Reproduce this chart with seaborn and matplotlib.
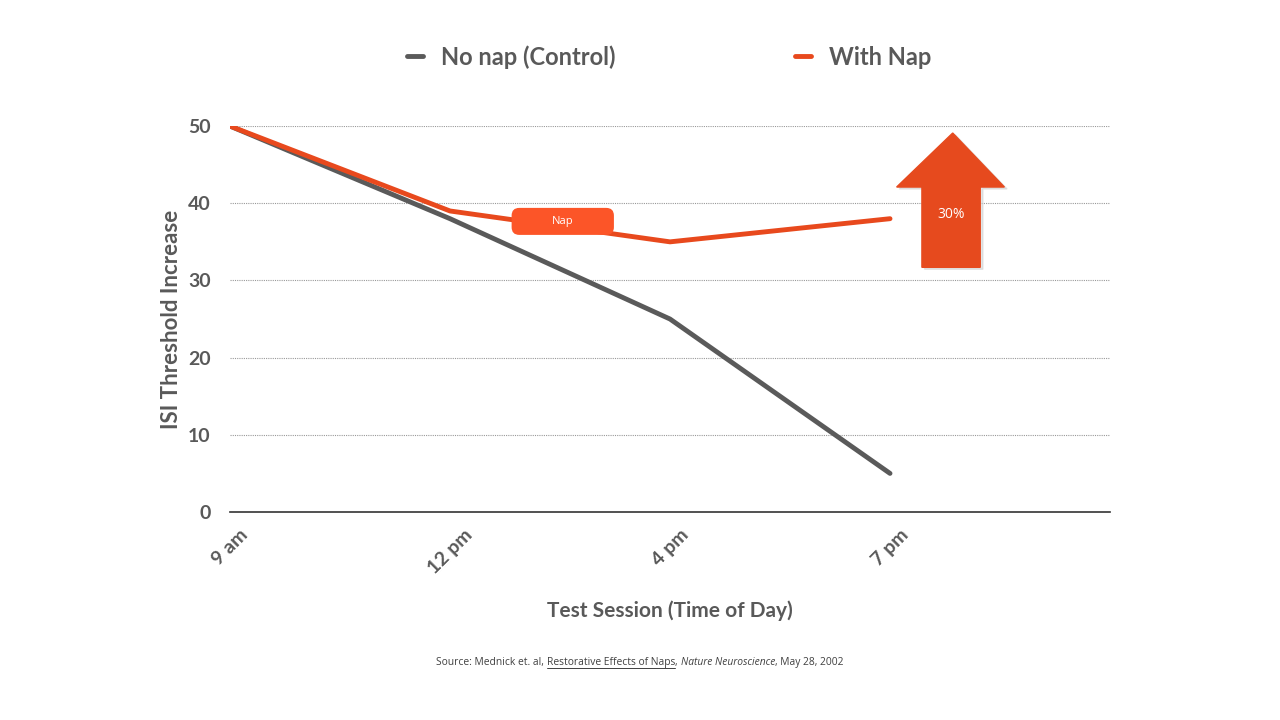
import matplotlib.pyplot as plt
import pandas as pd
import seaborn as sns
from matplotlib.lines import Line2D
from matplotlib.patches import FancyBboxPatch

# Data
sessions = ['9 am', '12 pm', '4 pm', '7 pm']
no_nap = [50, 38, 25, 5]
with_nap = [50, 39, 35, 38]
series_names = ['No nap (Control)', 'With Nap']

df = pd.DataFrame({
    'Session': list(range(len(sessions))) * 2,
    'Value': no_nap + with_nap,
    'Group': [series_names[0]] * 4 + [series_names[1]] * 4,
})

sns.set_style("white")
plt.rcParams['font.family'] = ['Lato', 'DejaVu Sans']

grey = '#5a5a5a'
orange = '#e8491d'
text_col = '#595959'

fig = plt.figure(figsize=(12.8, 7.2), dpi=100)
ax = fig.add_axes([0.1797, 0.2889, 0.6875, 0.536])

sns.lineplot(data=df, x='Session', y='Value', hue='Group',
             palette=[grey, orange], linewidth=3.5, ax=ax, legend=False)

ax.set_xlim(0, 4)
ax.set_ylim(0, 50)
ax.set_yticks([0, 10, 20, 30, 40, 50])
ax.set_xticks(range(len(sessions)))
ax.set_xticklabels(sessions, rotation=45, fontsize=14, fontweight='bold', color=text_col)
for t in ax.get_yticklabels():
    t.set_fontsize(14)
    t.set_fontweight('bold')
    t.set_color(text_col)
ax.tick_params(axis='x', length=0, pad=10)
ax.tick_params(axis='y', length=0, pad=14)

for y in [10, 20, 30, 40, 50]:
    ax.axhline(y, color='#999999', linestyle=(0, (1, 1)), linewidth=0.8, zorder=0)

for s in ['top', 'right', 'left']:
    ax.spines[s].set_visible(False)
ax.spines['bottom'].set_color('#333333')
ax.spines['bottom'].set_linewidth(1.2)

ax.set_xlabel('Test Session (Time of Day)', fontsize=15, fontweight='bold', color=text_col, labelpad=17)
ax.set_ylabel('ISI Threshold Increase', fontsize=16, fontweight='bold', color=text_col, labelpad=4)

# "Nap" label box
nap_box = FancyBboxPatch((1.28, 35.9), 0.465, 3.5,
                         boxstyle='round,pad=0,rounding_size=0.035',
                         mutation_aspect=28.5, fc='#fc5528', ec='none', zorder=4)
ax.add_patch(nap_box)
ax.text(1.5125, 37.65, 'Nap', ha='center', va='center', fontsize=8, color='white',
        family=['Open Sans', 'DejaVu Sans'], zorder=5)

# 30% arrow (shadow + body)
arrow_x = [3.145, 3.145, 3.03, 3.285, 3.52, 3.41, 3.41]
arrow_y = [31.7, 42.1, 42.1, 49.1, 42.1, 42.1, 31.7]
ax.fill([x + 0.012 for x in arrow_x], [y - 0.25 for y in arrow_y], color='#cccccc',
        alpha=0.5, clip_on=False, zorder=4)
ax.fill(arrow_x, arrow_y, color='#e64a1e', clip_on=False, zorder=5)
ax.text(3.28, 38.5, '30%', ha='center', va='center', fontsize=10, color='white',
        family=['Open Sans', 'DejaVu Sans'], zorder=6)

# Legend at top
handles = [Line2D([], [], color=grey, lw=3.5), Line2D([], [], color=orange, lw=3.5)]
fig.legend(handles, series_names, loc='center', bbox_to_anchor=(0.5227, 0.921), ncol=2,
           frameon=False, handlelength=0.7, handletextpad=0.75, columnspacing=7.6,
           prop={'size': 17, 'weight': 'bold'}, labelcolor=text_col)

# Source line with mixed styling
fig.canvas.draw()
src_font = dict(fontsize=7.4, color='#404040', family=['Open Sans', 'DejaVu Sans'])
parts = [('Source: Mednick et. al, ', 'normal', False),
         ('Restorative Effects of Naps', 'normal', True),
         (', ', 'normal', False),
         ('Nature Neuroscience', 'italic', False),
         (', May 28, 2002', 'normal', False)]
renderer = fig.canvas.get_renderer()
texts = []
x = 0.0
for s, style, ul in parts:
    t = fig.text(x, 0.076, s, style=style, va='baseline', ha='left', **src_font)
    bb = t.get_window_extent(renderer)
    texts.append((t, bb.width, ul))
    x += bb.width / fig.bbox.width
total = x
x0 = 0.5 - total / 2
for t, w, ul in texts:
    t.set_x(x0)
    if ul:
        line = Line2D([x0, x0 + w / fig.bbox.width], [0.0728, 0.0728],
                      transform=fig.transFigure, color='#404040', lw=0.7)
        fig.add_artist(line)
    x0 += w / fig.bbox.width

fig.savefig('out.png', dpi=100)
